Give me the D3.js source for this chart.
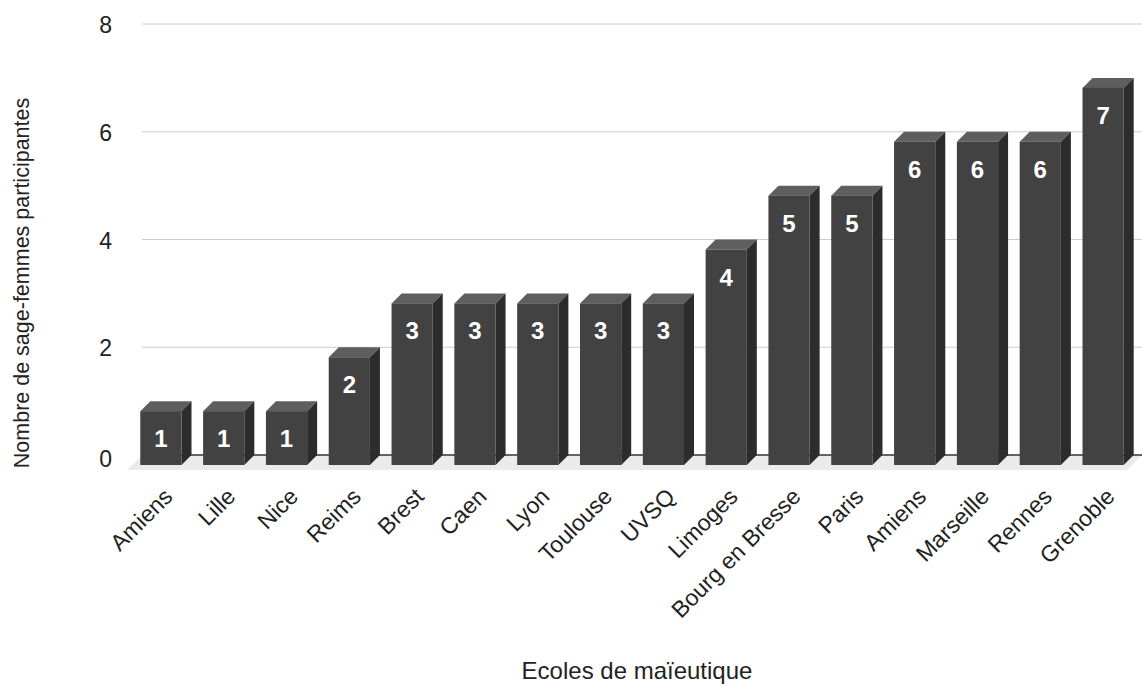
<!DOCTYPE html>
<html><head><meta charset="utf-8">
<script src="https://cdn.jsdelivr.net/npm/d3@7"></script>
<style>body{margin:0;background:#fff}svg{display:block;font-family:"Liberation Sans",Arial,sans-serif}</style>
</head><body>
<svg id="c" width="1142" height="686"></svg>
<script>
const categories = ["Amiens","Lille","Nice","Reims","Brest","Caen","Lyon","Toulouse","UVSQ","Limoges","Bourg en Bresse","Paris","Amiens","Marseille","Rennes","Grenoble"];
const values = [1,1,1,2,3,3,3,3,3,4,5,5,6,6,6,7];
const yTicks = [0,2,4,6,8];
const xTitle = "Ecoles de maïeutique";
const yTitle = "Nombre de sage-femmes participantes";

const svg = d3.select("#c");
const DX = 10, DY = 10;           // 3D depth offset
const backL = 142, backR = 1142;  // back plane extent
const x = d3.scaleBand().domain(d3.range(categories.length))
  .range([backL - DX, backR - DX]).paddingInner(0.344).paddingOuter(0.132);
const y = d3.scaleLinear().domain([0, 8]).range([455, 24]);

// floor
svg.append("polygon")
  .attr("points", [[backL, y(0)], [backR, y(0)], [backR - 15, y(0) + 15], [backL - 15, y(0) + 15]].map(p => p.join(",")).join(" "))
  .attr("fill", "#ebebeb");

// gridlines
svg.append("g").selectAll("line").data(yTicks.filter(d => d > 0)).join("line")
  .attr("x1", backL).attr("x2", backR)
  .attr("y1", d => y(d)).attr("y2", d => y(d))
  .attr("stroke", "#cccccc").attr("stroke-width", 1);
svg.append("line").attr("x1", backL).attr("x2", backR).attr("y1", y(0)).attr("y2", y(0))
  .attr("stroke", "#333").attr("stroke-width", 1.5);

// y tick labels
svg.append("g").selectAll("text").data(yTicks).join("text")
  .attr("x", 112).attr("y", d => y(d) + 9 + (d === 0 ? 3 : 0))
  .attr("text-anchor", "end").attr("font-size", 23).attr("fill", "#222")
  .text(d => d);

// bars
const bars = svg.append("g").selectAll("g").data(values).join("g");
bars.each(function(v, i) {
  const g = d3.select(this);
  const x0 = x(i), w = x.bandwidth();
  const top = y(v) + DY, bot = y(0) + DY;
  g.append("polygon").attr("fill", "#5e5e5e")
    .attr("points", [[x0, top], [x0 + DX, top - DY], [x0 + w + DX, top - DY], [x0 + w, top]].map(p => p.join(",")).join(" "));
  g.append("polygon").attr("fill", "#2c2c2c")
    .attr("points", [[x0 + w, top], [x0 + w + DX, top - DY], [x0 + w + DX, bot - DY], [x0 + w, bot]].map(p => p.join(",")).join(" "));
  g.append("rect").attr("x", x0).attr("y", top).attr("width", w).attr("height", bot - top).attr("fill", "#424242");
  g.append("text").attr("x", x0 + w / 2).attr("y", top + 36)
    .attr("text-anchor", "middle").attr("font-size", 24).attr("font-weight", "bold").attr("fill", "#fff")
    .text(v);
});

// x labels
svg.append("g").selectAll("text").data(categories).join("text")
  .attr("transform", (d, i) => `translate(${x(i) + x.bandwidth() / 2 + 13},${498}) rotate(-45)`)
  .attr("text-anchor", "end").attr("font-size", 23).attr("fill", "#222")
  .text(d => d);

// titles
svg.append("text").attr("x", 637).attr("y", 679).attr("text-anchor", "middle")
  .attr("font-size", 24).attr("fill", "#222").text(xTitle);
svg.append("text").attr("transform", `translate(29,283) rotate(-90)`).attr("text-anchor", "middle")
  .attr("font-size", 21.5).attr("fill", "#222").text(yTitle);
</script>
</body></html>
